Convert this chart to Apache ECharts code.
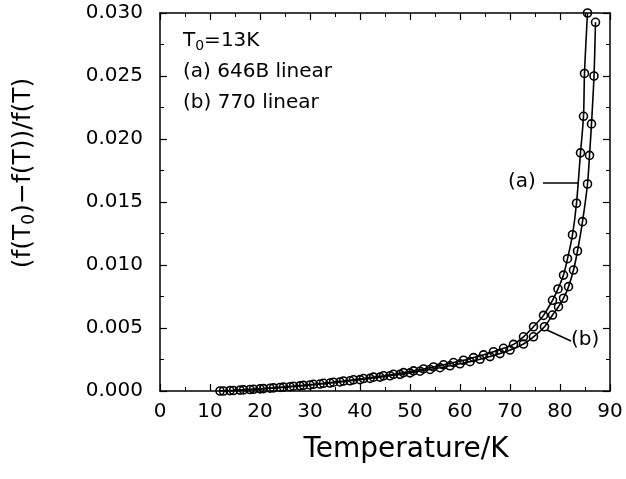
<!DOCTYPE html>
<html>
<head>
<meta charset="utf-8">
<script src="https://cdn.jsdelivr.net/npm/echarts@6/dist/echarts.min.js"></script>
<style>
  html, body { margin: 0; padding: 0; background: #fff; }
  #chart { width: 626px; height: 479px; }
</style>
</head>
<body>
<div id="chart"></div>
<script>
// curve (a) 646B linear
const tempA = [12.7, 14.7, 16.7, 18.7, 20.7, 22.7, 24.7, 26.7, 28.7, 30.7, 32.7, 34.7, 36.7, 38.7, 40.7,
  42.7, 44.7, 46.7, 48.7, 50.7, 52.7, 54.7, 56.7, 58.7, 60.7, 62.7, 64.7, 66.7, 68.7, 70.7, 72.7, 74.7,
  76.7, 78.5, 79.6, 80.7, 81.5, 82.5, 83.3, 84.1, 84.7, 84.9, 85.5]
const valA = [0.00000, 0.00004, 0.00009, 0.00014, 0.00019, 0.00025, 0.00031, 0.00038, 0.00045, 0.00053,
  0.00061, 0.00070, 0.00079, 0.00089, 0.00099, 0.00110, 0.00121, 0.00133, 0.00146, 0.00160, 0.00175,
  0.00191, 0.00208, 0.00226, 0.00244, 0.00265, 0.00287, 0.00312, 0.00339, 0.00370, 0.00430, 0.00510,
  0.00600, 0.00720, 0.00810, 0.00920, 0.01050, 0.01240, 0.01490, 0.01890, 0.02180, 0.02520, 0.03000]
// curve (b) 770 linear
const tempB = [12.0, 14.0, 16.0, 18.0, 20.0, 22.0, 24.0, 26.0, 28.0, 30.0, 32.0, 34.0, 36.0, 38.0, 40.0,
  42.0, 44.0, 46.0, 48.0, 50.0, 52.0, 54.0, 56.0, 58.0, 60.0, 62.0, 64.0, 66.0, 68.0, 70.0, 72.7, 74.7,
  76.9, 78.5, 79.7, 80.7, 81.7, 82.7, 83.5, 84.5, 85.5, 85.9, 86.3, 86.8, 87.1]
const valB = [0.00000, 0.00003, 0.00007, 0.00012, 0.00017, 0.00022, 0.00028, 0.00034, 0.00041, 0.00048,
  0.00055, 0.00063, 0.00072, 0.00081, 0.00090, 0.00100, 0.00110, 0.00121, 0.00132, 0.00144, 0.00157,
  0.00171, 0.00185, 0.00200, 0.00216, 0.00233, 0.00252, 0.00273, 0.00297, 0.00325, 0.00373, 0.00430,
  0.00510, 0.00603, 0.00669, 0.00736, 0.00828, 0.00960, 0.01111, 0.01344, 0.01643, 0.01870, 0.02120,
  0.02500, 0.02926]
const xTicks = [0, 10, 20, 30, 40, 50, 60, 70, 80, 90]
const yTicks = [0, 0.005, 0.010, 0.015, 0.020, 0.025, 0.030]

const FONT = 'DejaVu Sans'
const chart = echarts.init(document.getElementById('chart'))

function boxAxis (extra) {
  return Object.assign({
    type: 'value',
    axisLine: { show: true, onZero: false, lineStyle: { color: '#000', width: 1.5 } },
    axisTick: { show: true, inside: true, length: 7, lineStyle: { color: '#000', width: 1.2 } },
    minorTick: { show: true, splitNumber: 2, length: 4, lineStyle: { color: '#000', width: 1 } },
    splitLine: { show: false },
    axisLabel: { show: false }
  }, extra)
}

const option = {
  animation: false,
  backgroundColor: '#fff',
  grid: { left: 160, right: 16, top: 13, bottom: 88 },
  xAxis: [
    boxAxis({
      position: 'bottom',
      min: xTicks[0],
      max: xTicks[xTicks.length - 1],
      interval: 10,
      axisLabel: { show: true, color: '#000', fontFamily: FONT, fontSize: 20, margin: 11 },
      name: 'Temperature/K',
      nameLocation: 'middle',
      nameGap: 45,
      nameTextStyle: { color: '#000', fontFamily: FONT, fontSize: 28, verticalAlign: 'top', padding: [0, 0, 0, 42] }
    }),
    boxAxis({ position: 'top', min: xTicks[0], max: xTicks[xTicks.length - 1], interval: 10 })
  ],
  yAxis: [
    boxAxis({
      position: 'left',
      min: yTicks[0],
      max: yTicks[yTicks.length - 1],
      interval: 0.005,
      axisLabel: {
        show: true, color: '#000', fontFamily: FONT, fontSize: 20, margin: 17,
        formatter: v => v.toFixed(3)
      },
      name: '{n|(f(T}{s|0}{n|)−f(T))/f(T)}',
      nameLocation: 'middle',
      nameRotate: 90,
      nameGap: 122,
      nameTextStyle: {
        padding: [0, 0, 0, 58],
        rich: {
          n: { color: '#000', fontFamily: FONT, fontSize: 25 },
          s: { color: '#000', fontFamily: FONT, fontSize: 17, padding: [12, 0, 0, 0] }
        }
      }
    }),
    boxAxis({ position: 'right', min: yTicks[0], max: yTicks[yTicks.length - 1], interval: 0.005 })
  ],
  series: [
    {
      name: '(a) 646B linear',
      type: 'line',
      smooth: 0.3,
      data: tempA.map((t, i) => [t, valA[i]]),
      symbol: 'circle',
      symbolSize: 8,
      lineStyle: { color: '#000', width: 1.6 },
      itemStyle: { color: 'rgba(255,255,255,0)', borderColor: '#000', borderWidth: 1.6 },
      z: 3
    },
    {
      name: '(b) 770 linear',
      type: 'line',
      smooth: 0.3,
      data: tempB.map((t, i) => [t, valB[i]]),
      symbol: 'circle',
      symbolSize: 8,
      lineStyle: { color: '#000', width: 1.6 },
      itemStyle: { color: 'rgba(255,255,255,0)', borderColor: '#000', borderWidth: 1.6 },
      z: 3
    }
  ],
  graphic: [
    {
      type: 'text', left: 183, top: 31,
      style: {
        text: '{n|T}{s|0}{n|=13K}',
        rich: {
          n: { fill: '#000', font: '20px ' + FONT },
          s: { fill: '#000', font: '14px ' + FONT, padding: [11, 0, 0, 0] }
        }
      }
    },
    { type: 'text', left: 183, top: 62, style: { text: '(a) 646B linear', fill: '#000', font: '20px ' + FONT } },
    { type: 'text', left: 183, top: 93, style: { text: '(b) 770 linear', fill: '#000', font: '20px ' + FONT } },
    { type: 'text', left: 508, top: 172, style: { text: '(a)', fill: '#000', font: '20px ' + FONT } },
    { type: 'line', shape: { x1: 543, y1: 183, x2: 578, y2: 183 }, style: { stroke: '#000', lineWidth: 1.5 } },
    { type: 'text', left: 571, top: 330, style: { text: '(b)', fill: '#000', font: '20px ' + FONT } },
    { type: 'line', shape: { x1: 571, y1: 341, x2: 547, y2: 330 }, style: { stroke: '#000', lineWidth: 1.5 } }
  ]
}

chart.setOption(option)
</script>
</body>
</html>
